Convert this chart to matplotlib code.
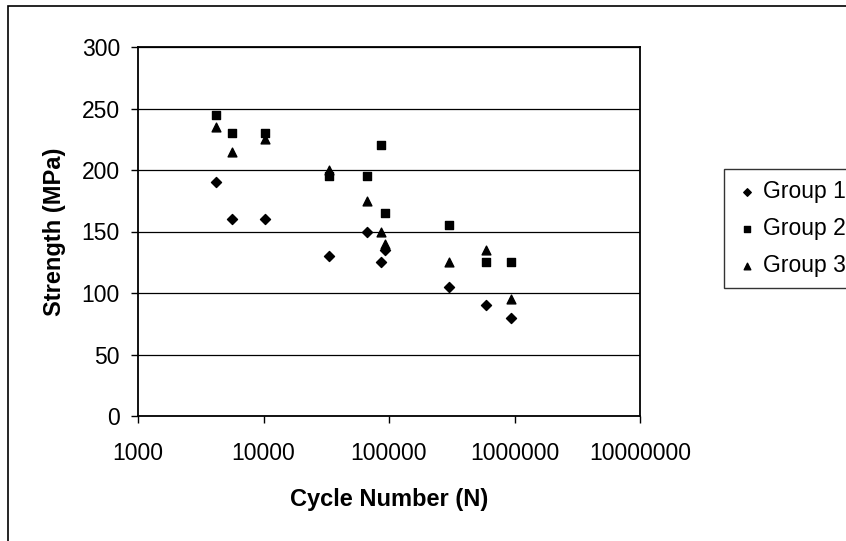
import matplotlib.pyplot as plt
from matplotlib.patches import Rectangle

plt.rcParams['font.family'] = ['Liberation Sans', 'DejaVu Sans']

# cycle numbers (shared by all groups) and strengths
cycles = [4200, 5600, 10200, 33500, 66500, 86000, 92500, 300000, 595000, 945000]
group1 = [190, 160, 160, 130, 150, 125, 135, 105, 90, 80]
group2 = [245, 230, 230, 195, 195, 220, 165, 155, 125, 125]
group3 = [235, 215, 225, 200, 175, 150, 140, 125, 135, 95]

y_ticks = [0, 50, 100, 150, 200, 250, 300]
x_ticks = [1000, 10000, 100000, 1000000, 10000000]

fig = plt.figure(figsize=(8.46, 5.41), dpi=100)
ax = fig.add_axes([138 / 846, 1 - 416 / 541, 502 / 846, 369 / 541])

ax.scatter(cycles, group1, marker="D", s=26, color="black", label="Group 1", zorder=3)
ax.scatter(cycles, group2, marker="s", s=28, color="black", label="Group 2", zorder=3)
ax.scatter(cycles, group3, marker="^", s=40, color="black", label="Group 3", zorder=3)

ax.set_xscale("log")
ax.set_xlim(1000, 10000000)
ax.set_ylim(0, 300)
ax.set_xticks(x_ticks)
ax.set_xticklabels([str(t) for t in x_ticks])
ax.minorticks_off()
ax.set_yticks(y_ticks)
ax.yaxis.grid(True, color="black", linewidth=0.9)
ax.set_axisbelow(True)
for s in ax.spines.values():
    s.set_linewidth(1.3)
ax.tick_params(axis="both", labelsize=16.5, length=5, width=1, direction="out")
ax.tick_params(axis="x", pad=14)
ax.tick_params(axis="y", pad=8)

ax.set_xlabel("Cycle Number (N)", fontsize=17, fontweight="bold", labelpad=16)
ax.set_ylabel("Strength (MPa)", fontsize=17, fontweight="bold", labelpad=11)

leg = fig.legend(loc="upper left", bbox_to_anchor=(724 / 846, 1 - 169 / 541),
                 fontsize=16.5, frameon=True, fancybox=False, borderaxespad=0,
                 handletextpad=0.2, handlelength=1.0, markerscale=0.75,
                 labelspacing=0.6, borderpad=0.5)
leg.get_frame().set_edgecolor("black")
leg.get_frame().set_linewidth(1)

# outer chart border (only left and top edges visible)
fig.add_artist(Rectangle((8 / 846, -0.5), 2, 0.5 + 1 - 6 / 541, transform=fig.transFigure,
                         fill=False, edgecolor="black", linewidth=1.2))

fig.savefig("out.png", dpi=100)
